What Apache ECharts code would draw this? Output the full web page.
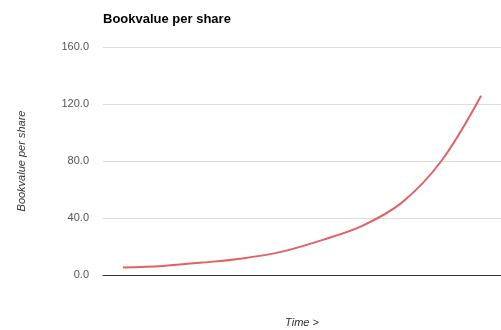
<!DOCTYPE html>
<html>
<head>
<meta charset="utf-8">
<style>
  html, body { margin: 0; padding: 0; background: #fff; }
  #chart { width: 501px; height: 330px; }
</style>
<script src="https://cdn.jsdelivr.net/npm/echarts@6/dist/echarts.min.js"></script>
</head>
<body>
<div id="chart"></div>
<script>
// Book value per share over successive periods
const periods = ['1', '2', '3', '4', '5', '6', '7', '8', '9', '10'];
const bookValue = [5.2, 6.4, 8.7, 11.6, 16.4, 24.5, 34.3, 50.6, 80.0, 125.8];
const yTicks = { min: 0, max: 160, interval: 40 };

const chart = echarts.init(document.getElementById('chart'), null, { renderer: 'canvas' });
chart.setOption({
  animation: false,
  title: {
    text: 'Bookvalue per share',
    left: 98,
    top: 8,
    textStyle: { fontFamily: 'Liberation Sans, Arial', fontSize: 13, fontWeight: 'bold', color: '#000' }
  },
  grid: { left: 103, right: 0, top: 47, bottom: 55, outerBoundsMode: 'none', containLabel: false },
  xAxis: {
    type: 'category',
    data: periods,
    boundaryGap: true,
    name: 'Time >',
    nameLocation: 'middle',
    nameGap: 42,
    nameTextStyle: { fontFamily: 'Liberation Sans, Arial', fontSize: 11, fontStyle: 'italic', color: '#333' },
    axisLine: { lineStyle: { color: '#333', width: 1 } },
    axisTick: { show: false },
    axisLabel: { show: false },
    splitLine: { show: false }
  },
  yAxis: {
    type: 'value',
    min: yTicks.min,
    max: yTicks.max,
    interval: yTicks.interval,
    name: 'Bookvalue per share',
    nameLocation: 'middle',
    nameRotate: 90,
    nameGap: 76,
    nameTextStyle: { fontFamily: 'Liberation Sans, Arial', fontSize: 11, fontStyle: 'italic', color: '#333' },
    axisLine: { show: false },
    axisTick: { show: false },
    axisLabel: {
      margin: 14,
      fontFamily: 'Liberation Sans, Arial',
      fontSize: 11,
      color: '#555',
      formatter: v => v.toFixed(1)
    },
    splitLine: { lineStyle: { color: '#ddd', width: 1 } }
  },
  series: [{
    type: 'line',
    data: bookValue,
    smooth: 0.35,
    showSymbol: false,
    lineStyle: { color: '#e06262', width: 2 }
  }]
});
</script>
</body>
</html>
